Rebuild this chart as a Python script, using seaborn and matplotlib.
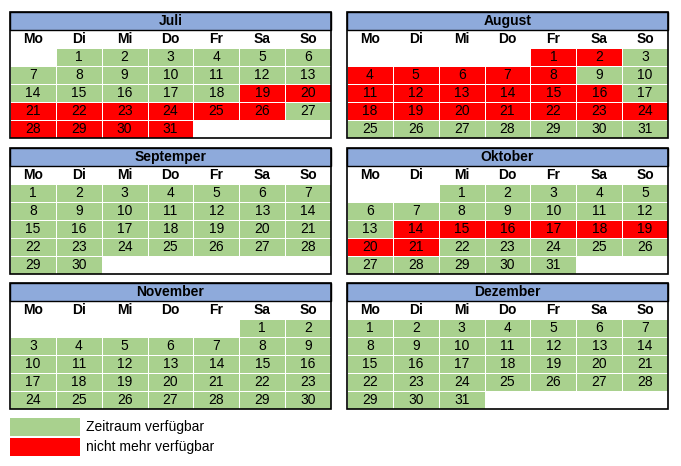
import numpy as np
import pandas as pd
import seaborn as sns
import matplotlib
matplotlib.use("Agg")
import matplotlib.pyplot as plt
from matplotlib.colors import ListedColormap
from matplotlib.patches import Rectangle

months = ["Juli", "August", "Septemper", "Oktober", "November", "Dezember"]
first_weekday = [1, 4, 0, 2, 5, 0]      # 0 = Monday
month_days = [31, 31, 30, 31, 30, 31]
weekdays = ["Mo", "Di", "Mi", "Do", "Fr", "Sa", "So"]
booked = {
    "Juli": [19, 20, 21, 22, 23, 24, 25, 26, 28, 29, 30, 31],
    "August": [1, 2, 4, 5, 6, 7, 8, 11, 12, 13, 14, 15, 16, 18, 19, 20, 21, 22, 23, 24],
    "Septemper": [],
    "Oktober": [14, 15, 16, 17, 18, 19, 20, 21],
    "November": [],
    "Dezember": [],
}
legend_labels = ["Zeitraum verfügbar", "nicht mehr verfügbar"]

GREEN = "#a9d18e"
RED = "#ff0000"
BLUE = "#8eaadb"
FONT = "Liberation Sans"
cmap = ListedColormap(["white", GREEN, RED])

fig = plt.figure(figsize=(6.81, 4.66), dpi=100)
W, H = 681, 466
lefts = [10, 347]
tops = [12, 148, 283]
pw, ph = 321, 126

for i, m in enumerate(months):
    col, row = i % 2, i // 2
    x0, y0 = lefts[col], tops[row]
    ax = fig.add_axes([x0 / W, 1 - (y0 + ph) / H, pw / W, ph / H])
    vals = np.zeros((5, 7))
    labels = np.full((5, 7), "", dtype=object)
    for d in range(1, month_days[i] + 1):
        k = first_weekday[i] + d - 1
        r, c = k // 7, k % 7
        vals[r, c] = 2 if d in booked[m] else 1
        labels[r, c] = str(d)
    sns.heatmap(pd.DataFrame(vals), ax=ax, cmap=cmap, vmin=0, vmax=2, cbar=False,
                annot=labels, fmt="", linewidths=0.4, linecolor="white",
                annot_kws={"fontsize": 10, "color": "black", "family": FONT})
    ax.set_ylim(5, -2)
    ax.set_xlim(0, 7)
    ax.add_patch(Rectangle((0, -2), 7, 1, facecolor=BLUE, edgecolor="black", lw=1, clip_on=False))
    ax.text(3.5, -1.5, m, ha="center", va="center", fontsize=10, family=FONT, fontweight="bold")
    for c, wd in enumerate(weekdays):
        ax.text(c + 0.5, -0.5, wd, ha="center", va="center", fontsize=10, family=FONT, fontweight="bold")
    ax.add_patch(Rectangle((0, -2), 7, 7, facecolor="none", edgecolor="black", lw=1.2, clip_on=False, zorder=5))
    ax.set_xticks([]); ax.set_yticks([])
    ax.set_xlabel(""); ax.set_ylabel("")

lax = fig.add_axes([0, 0, 1, 1]); lax.set_xlim(0, W); lax.set_ylim(H, 0); lax.axis("off")
for j, (lab, colr) in enumerate(zip(legend_labels, [GREEN, RED])):
    y = 418 + j * 20
    lax.add_patch(Rectangle((10, y), 70, 18, facecolor=colr, edgecolor="none"))
    lax.text(86, y + 9, lab, va="center", ha="left", fontsize=10, family=FONT)

fig.savefig("out.png", dpi=100)
